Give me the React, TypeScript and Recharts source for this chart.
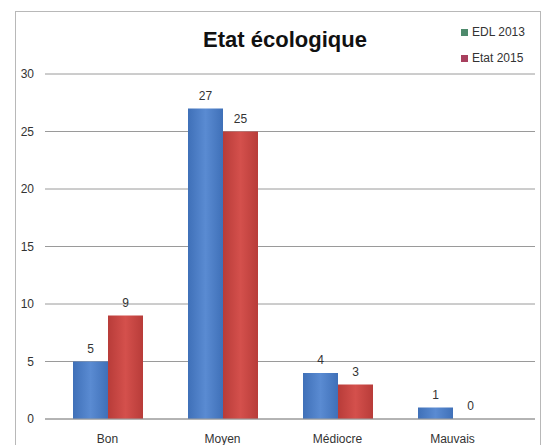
import React from "react";
import { BarChart, Bar, XAxis, YAxis, CartesianGrid, LabelList } from "recharts";

const categories = ["Bon", "Moyen", "Médiocre", "Mauvais"];
const edl2013 = [5, 27, 4, 1];
const etat2015 = [9, 25, 3, 0];
const yTicks = [0, 5, 10, 15, 20, 25, 30];
const seriesNames = ["EDL 2013", "Etat 2015"];

const data = categories.map((c, i) => ({ name: c, edl: edl2013[i], etat: etat2015[i] }));

const FONT = "'Liberation Sans Narrow', 'Liberation Sans', sans-serif";
const labelStyle = { fontFamily: FONT, fontSize: 12, fill: "#333" };

const renderLabel = (props: any) => {
  const { x, y, width, value } = props;
  return (
    <text x={Number(x) + Number(width) / 2} y={Number(y) - 9} textAnchor="middle" style={labelStyle}>
      {value}
    </text>
  );
};

// First-series label; also draws the label of a zero-height second-series bar,
// which the library does not render (its base equals the first bar's base).
const renderLabelEdl = (props: any) => {
  const { x, y, width, height, value, index } = props;
  const w = Number(width);
  const zero = etat2015[index] === 0;
  return (
    <g>
      <text x={Number(x) + w / 2} y={Number(y) - 9} textAnchor="middle" style={labelStyle}>
        {value}
      </text>
      {zero && (
        <text x={Number(x) + w * 1.5} y={Number(y) + Number(height) - 9} textAnchor="middle" style={labelStyle}>
          {etat2015[index]}
        </text>
      )}
    </g>
  );
};

export default function App() {
  return (
    <div style={{ position: "absolute", left: 0, top: 0, width: 546, height: 445, background: "#fff" }}>
      <div style={{ position: "absolute", left: 15, top: 11, width: 526, height: 440, border: "1px solid #b8b8b8", boxSizing: "border-box" }} />
      <div style={{ position: "absolute", left: 0, top: 27, width: 570, textAlign: "center", fontFamily: FONT, fontWeight: "bold", fontSize: 22, color: "#111" }}>
        Etat écologique
      </div>
      <div style={{ position: "absolute", left: 461, top: 19, fontFamily: FONT, fontSize: 12, color: "#333" }}>
        {seriesNames.map((n, i) => (
          <div key={n} style={{ display: "flex", alignItems: "center", height: 26 }}>
            <span style={{ display: "inline-block", width: 7, height: 7, background: i === 0 ? "#4e8a6c" : "#a8405e", marginRight: 4 }} />
            {n}
          </div>
        ))}
      </div>
      <BarChart
        width={546}
        height={445}
        data={data}
        margin={{ top: 74, right: 11, bottom: 0, left: 0 }}
        barCategoryGap="20%"
        barGap={0}
        style={{ position: "absolute", left: 0, top: 0 }}
      >
        <defs>
          <linearGradient id="gb" x1="0" y1="0" x2="1" y2="0">
            <stop offset="0%" stopColor="#3f70b8" />
            <stop offset="50%" stopColor="#5a8bd2" />
            <stop offset="100%" stopColor="#3f70b8" />
          </linearGradient>
          <linearGradient id="gr" x1="0" y1="0" x2="1" y2="0">
            <stop offset="0%" stopColor="#b83c39" />
            <stop offset="50%" stopColor="#d4504c" />
            <stop offset="100%" stopColor="#b83c39" />
          </linearGradient>
        </defs>
        <CartesianGrid vertical={false} stroke="#9a9a9a" />
        <XAxis
          dataKey="name"
          height={26}
          axisLine={{ stroke: "#9a9a9a" }}
          tickLine={false}
          tickMargin={9}
          padding={{ left: 5, right: 25 }}
          tick={{ fontFamily: FONT, fontSize: 12, fill: "#333" }}
          interval={0}
        />
        <YAxis
          width={45}
          domain={[0, 30]}
          ticks={yTicks}
          axisLine={false}
          tickLine={false}
          tickMargin={5}
          tick={{ fontFamily: FONT, fontSize: 12, fill: "#333" }}
        />
        <Bar dataKey="edl" name={seriesNames[0]} fill="url(#gb)" isAnimationActive={false}>
          <LabelList dataKey="edl" content={renderLabelEdl} />
        </Bar>
        <Bar dataKey="etat" name={seriesNames[1]} fill="url(#gr)" isAnimationActive={false}>
          <LabelList dataKey="etat" content={renderLabel} />
        </Bar>
      </BarChart>
    </div>
  );
}
